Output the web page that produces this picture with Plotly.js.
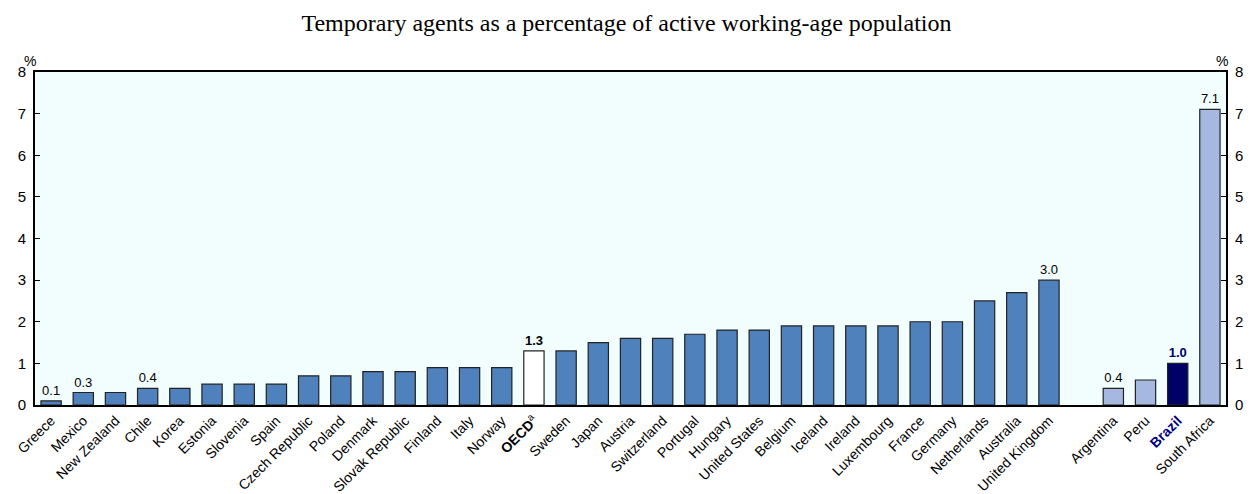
<!DOCTYPE html>
<html><head><meta charset="utf-8">
<script src="https://cdn.plot.ly/plotly-3.0.1.min.js"></script>
<style>html,body{margin:0;padding:0;background:#fff}#chart{width:1253px;height:494px}</style>
</head><body><div id="chart"></div>
<script>
const oecdCountries = ["Greece","Mexico","New Zealand","Chile","Korea","Estonia","Slovenia","Spain","Czech Republic","Poland","Denmark","Slovak Republic","Finland","Italy","Norway","OECD","Sweden","Japan","Austria","Switzerland","Portugal","Hungary","United States","Belgium","Iceland","Ireland","Luxembourg","France","Germany","Netherlands","Australia","United Kingdom"];
const oecdValues = [0.1,0.3,0.3,0.4,0.4,0.5,0.5,0.5,0.7,0.7,0.8,0.8,0.9,0.9,0.9,1.3,1.3,1.5,1.6,1.6,1.7,1.8,1.8,1.9,1.9,1.9,1.9,2.0,2.0,2.5,2.7,3.0];
const partnerCountries = ["Argentina","Peru","Brazil","South Africa"];
const partnerValues = [0.4,0.6,1.0,7.1];
const labelledBars = ["Greece","Mexico","Chile","OECD","United Kingdom","Argentina","Brazil","South Africa"];
const yTicks = [0,1,2,3,4,5,6,7,8];

const COL_OECD = "#4f81bd", COL_AVG = "#ffffff", COL_PART = "#a6b8e0", COL_BRA = "#000066";
const FONT = "Liberation Sans, Arial, sans-serif";

const xs = [], ys = [], cols = [], txt = [], tickvals = [], ticktext = [];
oecdCountries.forEach((c,i)=>{ xs.push(i); ys.push(oecdValues[i]); });
partnerCountries.forEach((c,i)=>{ xs.push(oecdCountries.length+1+i); ys.push(partnerValues[i]); });
const allNames = oecdCountries.concat(partnerCountries);
allNames.forEach((c,i)=>{
  const isP = i >= oecdCountries.length;
  let col = isP ? COL_PART : COL_OECD;
  if (c==="OECD") col = COL_AVG;
  if (c==="Brazil") col = COL_BRA;
  cols.push(col);
  let t = "";
  if (labelledBars.includes(c)) {
    const v = ys[i].toFixed(1);
    if (c==="OECD") t = "<b>"+v+"</b>";
    else if (c==="Brazil") t = "<b><span style='color:#000066'>"+v+"</span></b>";
    else t = v;
  }
  txt.push(t);
  tickvals.push(xs[i]);
  let lab = c;
  if (c==="OECD") lab = "<b>OECD</b><sup>a</sup>";
  if (c==="Brazil") lab = "<b><span style='color:#000080'>Brazil</span></b>";
  ticktext.push(lab);
});

const trace = {
  type:"bar", x:xs, y:ys, width:0.63,
  marker:{color:cols, line:{color:"#222222", width:1.2}},
  text:txt, textposition:"outside", cliponaxis:false,
  textfont:{family:FONT, size:13, color:"#000"},
  hoverinfo:"skip"
};
const ghost = {type:"scatter", x:[xs[0]], y:[0], yaxis:"y2", mode:"markers", marker:{opacity:0}, showlegend:false, hoverinfo:"skip"};

const layout = {
  width:1253, height:494,
  margin:{l:35, r:27, t:72, b:89},
  paper_bgcolor:"#ffffff", plot_bgcolor:"#f2fefe",
  showlegend:false,
  title:{text:"Temporary agents as a percentage of active working-age population",
    font:{family:"Liberation Serif, Times New Roman, serif", size:24, color:"#000"}, x:0.5, xanchor:"center", y:0.955, yanchor:"middle"},
  bargap:0,
  xaxis:{range:[-0.5, allNames.length+0.5], tickvals:tickvals, ticktext:ticktext, tickangle:-45,
    tickfont:{family:FONT, size:14, color:"#000"},
    showgrid:false, zeroline:false, showline:true, linecolor:"#000", linewidth:2, ticks:"", mirror:true, fixedrange:true},
  yaxis:{range:[0,8], tickvals:yTicks, ticks:"inside", ticklen:5, tickcolor:"#000",
    tickfont:{family:FONT, size:15, color:"#000"},
    showgrid:false, zeroline:false, showline:true, linecolor:"#000", linewidth:2, ticklabelstandoff:4},
  yaxis2:{range:[0,8], tickvals:yTicks, overlaying:"y", side:"right", ticks:"inside", ticklen:5, tickcolor:"#000",
    tickfont:{family:FONT, size:15, color:"#000"},
    showgrid:false, zeroline:false, showline:true, linecolor:"#000", linewidth:2, ticklabelstandoff:4},
  annotations:[
    {text:"%", xref:"paper", yref:"paper", x:0, y:1, xanchor:"center", yanchor:"bottom", xshift:-5, yshift:1, showarrow:false, font:{family:FONT, size:14, color:"#000"}},
    {text:"%", xref:"paper", yref:"paper", x:1, y:1, xanchor:"center", yanchor:"bottom", xshift:-4, yshift:1, showarrow:false, font:{family:FONT, size:14, color:"#000"}}
  ]
};
Plotly.newPlot("chart", [trace, ghost], layout, {displayModeBar:false, staticPlot:true});
</script></body></html>
